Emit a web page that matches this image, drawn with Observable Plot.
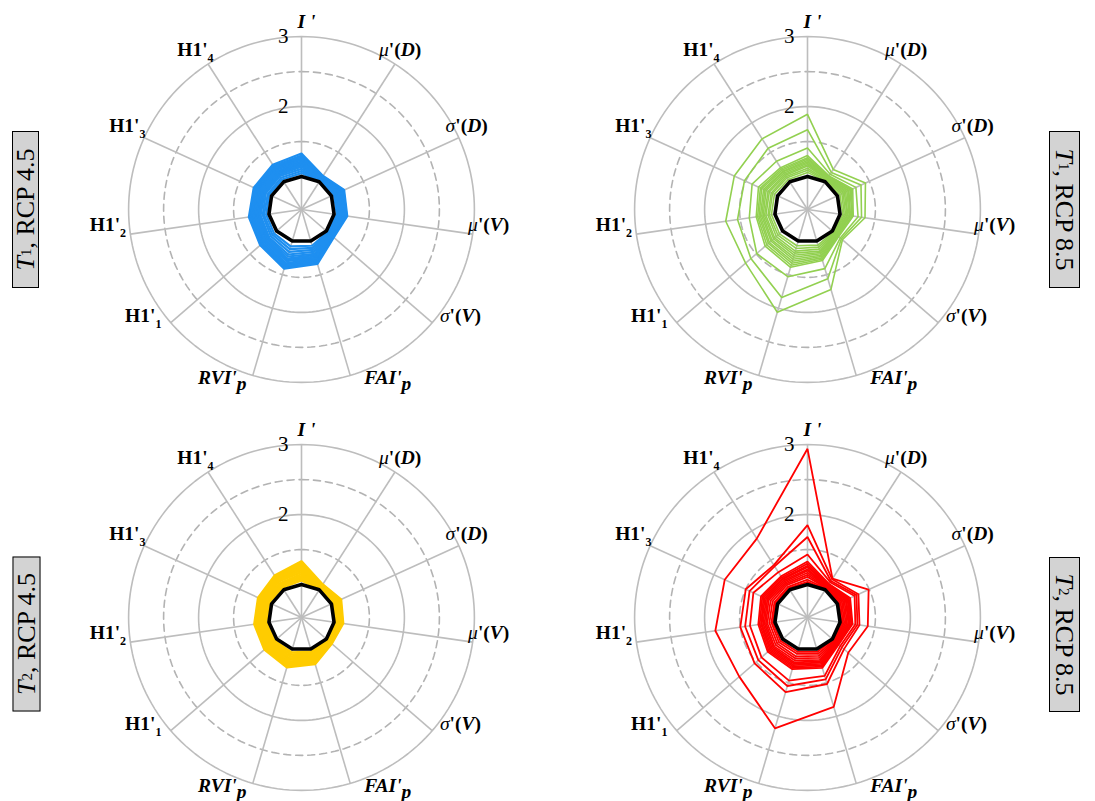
<!DOCTYPE html>
<html>
<head>
<meta charset="utf-8">
<script src="https://cdn.jsdelivr.net/npm/d3@7"></script>
<script src="https://cdn.jsdelivr.net/npm/@observablehq/plot@0.6"></script>
<style>
  html, body { margin: 0; padding: 0; background: #fff; }
  #root { position: relative; width: 1095px; height: 801px; overflow: hidden; font-family: "Liberation Serif", "Times New Roman", serif; }
  .panel { position: absolute; }
  .panel svg { overflow: visible; }
  .tag { position: absolute; box-sizing: border-box; background: #d3d3d3; border: 1.5px solid #000;
         display: flex; align-items: center; justify-content: center; white-space: nowrap;
         font-size: 26px; line-height: 26px; color: #000; }
  .tag sub { font-size: 15px; vertical-align: -5px; line-height: 0; }
</style>
</head>
<body>
<div id="root"></div>
<script>
// ---------------- data ----------------
const axes = ["I '", "μ'(D)", "σ'(D)", "μ'(V)", "σ'(V)", "FAI'p", "RVI'p", "H1'1", "H1'2", "H1'3", "H1'4"];
const ringValues = [1.5, 2, 2.5, 3];
const dashedRings = [1.5, 2.5];
const tickValues = [2, 3];
const referenceValues = [1, 1, 1, 1, 1, 1, 1, 1, 1, 1, 1];

// T1, RCP 4.5 (blue)
const seriesT1RCP45 = [
  [1.33,1.10,1.20,1.19,1.14,1.34,1.41,1.31,1.29,1.28,1.29],
  [1.30,1.09,1.19,1.18,1.13,1.32,1.39,1.29,1.27,1.26,1.27],
  [1.28,1.08,1.18,1.17,1.12,1.30,1.37,1.28,1.26,1.25,1.25],
  [1.26,1.07,1.17,1.16,1.11,1.28,1.35,1.26,1.24,1.23,1.23],
  [1.24,1.06,1.16,1.15,1.10,1.26,1.33,1.24,1.22,1.21,1.22],
  [1.22,1.06,1.15,1.14,1.09,1.25,1.30,1.22,1.20,1.19,1.20],
  [1.20,1.05,1.14,1.13,1.08,1.23,1.28,1.20,1.18,1.17,1.18],
  [1.18,1.04,1.13,1.12,1.07,1.21,1.26,1.18,1.16,1.15,1.16],
  [1.16,1.04,1.12,1.11,1.06,1.19,1.23,1.16,1.14,1.13,1.14],
  [1.14,1.03,1.10,1.10,1.05,1.16,1.20,1.14,1.12,1.11,1.12],
  [1.11,1.02,1.08,1.08,1.04,1.13,1.16,1.11,1.09,1.09,1.10],
  [1.08,1.02,1.06,1.06,1.03,1.10,1.12,1.08,1.07,1.06,1.07],
  [1.05,1.01,1.04,1.04,1.02,1.07,1.08,1.05,1.04,1.04,1.04]
];
// T1, RCP 8.5 (green)
const seriesT1RCP85 = [
  [1.89,1.21,1.44,1.36,1.19,1.72,2.06,1.70,1.71,1.68,1.73],
  [1.67,1.16,1.37,1.31,1.17,1.56,1.84,1.60,1.54,1.52,1.57],
  [1.41,1.13,1.29,1.26,1.15,1.41,1.53,1.49,1.37,1.40,1.35],
  [1.30,1.10,1.24,1.19,1.12,1.29,1.39,1.33,1.27,1.30,1.24],
  [1.27,1.09,1.22,1.18,1.11,1.27,1.36,1.30,1.25,1.27,1.22],
  [1.25,1.08,1.20,1.17,1.10,1.25,1.33,1.27,1.23,1.25,1.20],
  [1.23,1.07,1.18,1.15,1.09,1.23,1.30,1.25,1.21,1.22,1.18],
  [1.21,1.06,1.17,1.14,1.08,1.21,1.27,1.22,1.19,1.20,1.17],
  [1.19,1.05,1.15,1.13,1.07,1.19,1.24,1.20,1.17,1.18,1.15],
  [1.17,1.05,1.13,1.11,1.06,1.17,1.21,1.17,1.15,1.15,1.13],
  [1.15,1.04,1.11,1.10,1.05,1.15,1.18,1.15,1.13,1.13,1.11],
  [1.12,1.03,1.09,1.08,1.04,1.12,1.15,1.12,1.10,1.10,1.09],
  [1.09,1.02,1.07,1.06,1.03,1.09,1.11,1.09,1.08,1.08,1.07],
  [1.06,1.01,1.04,1.04,1.02,1.06,1.07,1.06,1.05,1.05,1.04]
];
// T2, RCP 4.5 (yellow)
const seriesT2RCP45 = [
  [1.33,1.09,1.15,1.13,1.10,1.22,1.27,1.23,1.21,1.21,1.24],
  [1.30,1.08,1.14,1.12,1.09,1.21,1.25,1.21,1.19,1.19,1.22],
  [1.27,1.07,1.13,1.11,1.08,1.19,1.23,1.19,1.18,1.18,1.20],
  [1.24,1.06,1.12,1.10,1.07,1.17,1.21,1.17,1.16,1.16,1.18],
  [1.21,1.05,1.11,1.09,1.07,1.15,1.19,1.15,1.14,1.14,1.16],
  [1.18,1.05,1.10,1.08,1.06,1.13,1.16,1.13,1.12,1.12,1.14],
  [1.15,1.04,1.08,1.07,1.05,1.11,1.14,1.11,1.10,1.10,1.11],
  [1.12,1.03,1.07,1.06,1.04,1.09,1.11,1.09,1.08,1.08,1.09],
  [1.09,1.02,1.05,1.04,1.03,1.07,1.08,1.07,1.06,1.06,1.07],
  [1.06,1.01,1.03,1.03,1.02,1.04,1.05,1.04,1.04,1.04,1.04]
];
// T2, RCP 8.5 (red)
const seriesT2RCP85 = [
  [2.94,1.19,1.49,1.40,1.30,1.86,2.18,1.82,1.86,1.83,1.87],
  [1.85,1.18,1.33,1.28,1.22,1.52,1.64,1.53,1.50,1.50,1.42],
  [1.68,1.15,1.30,1.25,1.18,1.45,1.55,1.46,1.43,1.44,1.40],
  [1.43,1.13,1.27,1.22,1.15,1.40,1.47,1.40,1.36,1.38,1.30],
  [1.33,1.10,1.20,1.18,1.12,1.28,1.30,1.28,1.24,1.26,1.23],
  [1.30,1.09,1.18,1.17,1.11,1.26,1.28,1.26,1.22,1.24,1.21],
  [1.27,1.08,1.17,1.16,1.10,1.24,1.26,1.24,1.20,1.22,1.19],
  [1.25,1.07,1.16,1.14,1.09,1.22,1.24,1.22,1.19,1.20,1.18],
  [1.22,1.06,1.14,1.13,1.08,1.20,1.22,1.20,1.17,1.18,1.16],
  [1.20,1.05,1.13,1.12,1.07,1.18,1.20,1.18,1.15,1.16,1.14],
  [1.17,1.05,1.11,1.10,1.06,1.16,1.17,1.16,1.13,1.14,1.12],
  [1.14,1.04,1.09,1.08,1.05,1.13,1.14,1.13,1.11,1.11,1.10],
  [1.11,1.03,1.07,1.06,1.04,1.10,1.11,1.10,1.08,1.08,1.08],
  [1.07,1.02,1.05,1.04,1.03,1.07,1.07,1.07,1.05,1.05,1.05],
  [1.04,1.01,1.03,1.02,1.01,1.04,1.04,1.04,1.03,1.03,1.03]
];

// ---------------- layout / style ----------------
const panels = [
  {series: seriesT1RCP45, color: "#1e8ff0", sw: 2.2, cx: 301, cy: 209, tag: ["T", "1", ", RCP 4.5"], side: "left",  box: {cx: 25.5, cy: 209, w: 157, h: 27}},
  {series: seriesT1RCP85, color: "#92d050", sw: 1.6, cx: 807, cy: 209, tag: ["T", "1", ", RCP 8.5"], side: "right", box: {cx: 1064.5, cy: 209, w: 157, h: 31}},
  {series: seriesT2RCP45, color: "#ffcc00", sw: 2.6, cx: 301, cy: 617, tag: ["T", "2", ", RCP 4.5"], side: "left",  box: {cx: 26, cy: 633.5, w: 155, h: 28}},
  {series: seriesT2RCP85, color: "#ff0000", sw: 1.8, cx: 807, cy: 617, tag: ["T", "2", ", RCP 8.5"], side: "right", box: {cx: 1064, cy: 634.5, w: 155, h: 31}}
];
const W = 460, H = 420;     // svg size per panel
const K = 70;               // pixels per value unit
const R0 = 0.53;            // value at the pole
const u = v => v - R0;
const ang = i => i * 2 * Math.PI / axes.length;
const px = (v, i) => u(v) * Math.sin(ang(i));
const py = (v, i) => u(v) * Math.cos(ang(i));
const outer = d3.max(ringValues);

function labelX(i) {
  const th = ang(i), s = Math.sin(th), c = Math.cos(th);
  const d = s > -1e-9 ? 5 + 8.5 * (1 - c) ** 2 : -(11 + 10 * (1 - c));
  return px(outer, i) + d / K;
}
function labelY(i) {
  const c = Math.cos(ang(i));
  const d = c < -0.85 ? 2 : -10 - 5 * c;
  return py(outer, i) - d / K;
}

function segments(t) {
  if (t === "I '") return [{t: "I '", b: 1, i: 1}];
  if (t[0] === "μ" || t[0] === "σ") return [{t: t[0], i: 1}, {t: "'(", b: 1}, {t: t[3], b: 1, i: 1}, {t: ")", b: 1}];
  if (t.endsWith("'p")) return [{t: t.slice(0, -1), b: 1, i: 1}, {t: "p", b: 1, i: 1, dy: 6}];
  if (t.startsWith("H1'")) return [{t: "H1'", b: 1}, {t: t.slice(3), b: 1, dy: 6, size: 12}];
  return null;
}
function richify(svg) {
  d3.select(svg).selectAll("text").each(function() {
    const segs = segments(this.textContent);
    if (!segs) return;
    const sel = d3.select(this);
    sel.text(null);
    for (const s of segs) {
      const ts = sel.append("tspan").text(s.t)
        .attr("font-weight", s.b ? "bold" : "normal")
        .attr("font-style", s.i ? "italic" : "normal");
      if (s.dy) ts.attr("dy", s.dy);
      if (s.size) ts.attr("font-size", s.size);
    }
  });
}

const root = document.getElementById("root");
const deg = d3.range(0, 361, 2);

for (const p of panels) {
  const ringRows = ringValues.flatMap(v => deg.map(a => ({ring: v, a: a * Math.PI / 180})));
  const spokes = axes.map((a, i) => ({i}));
  const rows = p.series.flatMap((vals, s) => vals.map((v, i) => ({s, i, v})));
  const refRows = referenceValues.map((v, i) => ({i, v}));
  const labelRows = axes.map((a, i) => ({a, i}));
  const tickRows = tickValues.map(v => ({v, t: String(v)}));

  const chart = Plot.plot({
    width: W, height: H, margin: 0,
    x: {domain: [-W / 2 / K, W / 2 / K], axis: null},
    y: {domain: [-H / 2 / K, H / 2 / K], axis: null},
    style: {background: "transparent", fontFamily: "'Liberation Serif', 'Times New Roman', serif", overflow: "visible"},
    marks: [
      Plot.line(ringRows.filter(d => !dashedRings.includes(d.ring)), {
        x: d => u(d.ring) * Math.sin(d.a), y: d => u(d.ring) * Math.cos(d.a), z: "ring",
        stroke: "#bdbdbd", strokeWidth: 1.6
      }),
      Plot.line(ringRows.filter(d => dashedRings.includes(d.ring)), {
        x: d => u(d.ring) * Math.sin(d.a), y: d => u(d.ring) * Math.cos(d.a), z: "ring",
        stroke: "#b3b3b3", strokeWidth: 1.6, strokeDasharray: "7,5"
      }),
      Plot.link(spokes, {
        x1: 0, y1: 0, x2: d => px(outer, d.i), y2: d => py(outer, d.i),
        stroke: "#bdbdbd", strokeWidth: 1.6
      }),
      Plot.line(rows, {
        x: d => px(d.v, d.i), y: d => py(d.v, d.i), z: "s",
        curve: "linear-closed", stroke: p.color, strokeWidth: p.sw, strokeLinejoin: "miter"
      }),
      Plot.line(refRows, {
        x: d => px(d.v, d.i), y: d => py(d.v, d.i),
        curve: "linear-closed", stroke: "#000", strokeWidth: 3.6, strokeLinejoin: "miter"
      }),
      Plot.text(tickRows, {
        x: 0, y: d => u(d.v), text: "t", textAnchor: "end", lineAnchor: "middle",
        dx: -13, fontSize: 21, fill: "#000"
      }),
      Plot.text(labelRows, {
        x: d => labelX(d.i), y: d => labelY(d.i), text: "a",
        textAnchor: "middle", lineAnchor: "middle", fontSize: 19.5, fontWeight: "bold", fill: "#000"
      })
    ]
  });
  richify(chart);
  const div = document.createElement("div");
  div.className = "panel";
  div.style.left = (p.cx - W / 2) + "px";
  div.style.top = (p.cy - H / 2) + "px";
  div.appendChild(chart);
  root.appendChild(div);

  const tag = document.createElement("div");
  tag.className = "tag";
  tag.style.width = p.box.w + "px";
  tag.style.height = p.box.h + "px";
  tag.style.left = (p.box.cx - p.box.w / 2) + "px";
  tag.style.top = (p.box.cy - p.box.h / 2) + "px";
  tag.style.transform = `rotate(${p.side === "left" ? -90 : 90}deg)`;
  const it = document.createElement("i"); it.textContent = p.tag[0];
  const sb = document.createElement("sub"); sb.textContent = p.tag[1];
  tag.appendChild(it); tag.appendChild(sb); tag.appendChild(document.createTextNode(p.tag[2]));
  root.appendChild(tag);
}
</script>
</body>
</html>
